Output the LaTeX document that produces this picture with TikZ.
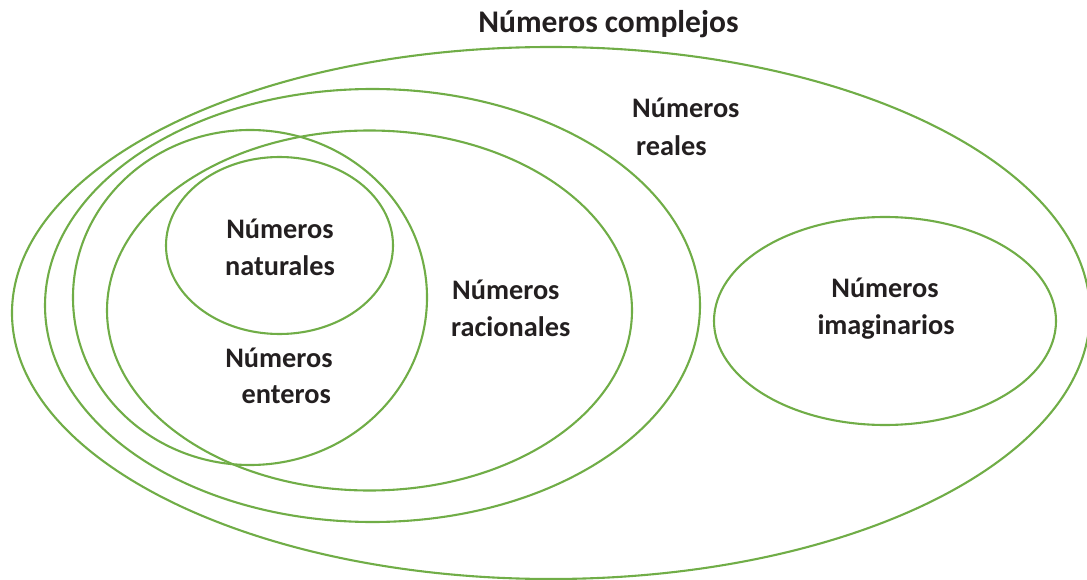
\documentclass[tikz,border=0pt]{standalone}
\usepackage{fontspec}
\setmainfont{Carlito}
\definecolor{setgreen}{HTML}{70AD47}
\definecolor{txt}{RGB}{35,31,32}
\begin{document}
\begin{tikzpicture}[x=1pt,y=-1pt,
  setline/.style={draw=setgreen,line width=2.1pt},
  lbl/.style={inner sep=0pt,text=txt,font=\fontsize{28.3}{34}\selectfont\bfseries},
  ttl/.style={inner sep=0pt,text=txt,font=\fontsize{31.5}{38}\selectfont\bfseries}]
\useasboundingbox (0,0) rectangle (1087,580);
\clip (0,0) rectangle (1087,580);
% sets
\draw[setline] (551,313) ellipse [x radius=539, y radius=266];   % complejos
\draw[setline] (372.5,305.5) ellipse [x radius=327.5, y radius=216.5]; % reales
\draw[setline] (369.5,310.5) ellipse [x radius=262.5, y radius=180];   % racionales
\draw[setline] (250,297.5) ellipse [x radius=177, y radius=167.5];     % enteros
\draw[setline] (279.5,245.5) ellipse [x radius=113.5, y radius=88.5];  % naturales
\draw[setline] (885,321) ellipse [x radius=171, y radius=104];         % imaginarios
% labels
\node[ttl,anchor=base] (complejos) at (608.5,33) {Números complejos};
\node[lbl,anchor=base west] (real1) at (632,118) {Números};
\node[lbl,anchor=base west] (real2) at (636,156) {reales};
\node[lbl,anchor=base] (nat1) at (280,239) {Números};
\node[lbl,anchor=base] (nat2) at (280,276) {naturales};
\node[lbl,anchor=base] (ent1) at (279,367) {Números};
\node[lbl,anchor=base east] (ent2) at (331,403) {enteros};
\node[lbl,anchor=base west] (rac1) at (452,299) {Números};
\node[lbl,anchor=base west] (rac2) at (451,336) {racionales};
\node[lbl,anchor=base] (ima1) at (885,297) {Números};
\node[lbl,anchor=base] (ima2) at (886,334) {imaginarios};
\end{tikzpicture}
\end{document}
